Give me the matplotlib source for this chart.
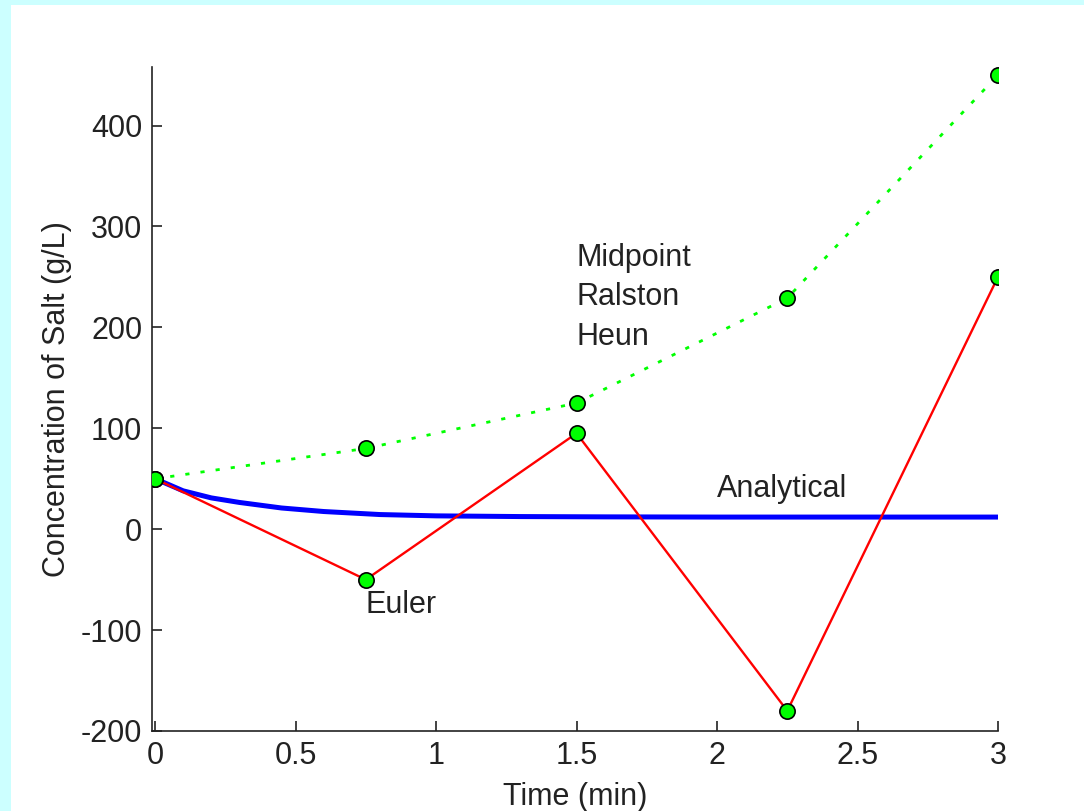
import matplotlib
matplotlib.use("Agg")
import matplotlib.pyplot as plt
import matplotlib.patches

plt.rcParams['font.family'] = ['Liberation Sans', 'DejaVu Sans']
plt.rcParams['axes.unicode_minus'] = False

# step results, h = 0.75 min
t_step = [0, 0.75, 1.5, 2.25, 3.0]
c_euler = [50, -50, 95, -180, 250]
c_midpoint = [50, 80, 125, 229, 450]

# analytical solution
t_exact = [0, 0.1, 0.2, 0.3, 0.45, 0.6, 0.8, 1.0, 1.3, 1.6, 2.0, 2.5, 3.0]
c_exact = [50, 38, 31, 26.5, 21, 17.5, 14.5, 13.2, 12.5, 12.2, 12, 12, 12]

x_ticks = [0, 0.5, 1, 1.5, 2, 2.5, 3]
x_labels = ["0", "0.5", "1", "1.5", "2", "2.5", "3"]
y_ticks = [-200, -100, 0, 100, 200, 300, 400]

fig = plt.figure(figsize=(10.84, 8.11), dpi=100, facecolor="#ccffff")
# white panel, cyan strip left and top
panel = matplotlib.patches.Rectangle((11 / 1084, 0), 1, 1 - 5 / 811,
                                     transform=fig.transFigure,
                                     facecolor="white", edgecolor="none",
                                     zorder=-10)
fig.patches.append(panel)

ax = fig.add_axes([152 / 1084, 80 / 811, (998 - 152) / 1084, (731 - 67) / 811])
ax.set_facecolor("none")

ax.plot(t_exact, c_exact, color="#0000ff", linewidth=3.6, zorder=2)
ax.plot(t_step, c_euler, color="#ff0000", linewidth=1.7, zorder=3)
ax.plot(t_step, c_midpoint, color="#00ff00", linewidth=2.0, linestyle=(0, (1.5, 4)),
        zorder=3)
ax.plot(t_step, c_euler, "o", markersize=11, markerfacecolor="#00ff00",
        markeredgecolor="black", markeredgewidth=1.2, zorder=4)
ax.plot(t_step, c_midpoint, "o", markersize=11, markerfacecolor="#00ff00",
        markeredgecolor="black", markeredgewidth=1.2, zorder=4)

fs = 22
tc = "#222222"
ax.text(1.5, 269, "Midpoint", fontsize=fs, va="center", ha="left", color=tc)
ax.text(1.5, 230, "Ralston", fontsize=fs, va="center", ha="left", color=tc)
ax.text(1.5, 190, "Heun", fontsize=fs, va="center", ha="left", color=tc)
ax.text(2.0, 40, "Analytical", fontsize=fs, va="center", ha="left", color=tc)
ax.text(0.75, -75, "Euler", fontsize=fs, va="center", ha="left", color=tc)

ax.set_xlim(-0.011, 3.0)
ax.set_ylim(-200, 458)
ax.set_xticks(x_ticks)
ax.set_xticklabels(x_labels)
ax.set_yticks(y_ticks)
ax.tick_params(direction="in", length=7, width=1.2, labelsize=fs,
               colors=tc, pad=7)
for side in ["top", "right"]:
    ax.spines[side].set_visible(False)
for side in ["left", "bottom"]:
    ax.spines[side].set_linewidth(1.2)
    ax.spines[side].set_color(tc)

ax.set_xlabel("Time (min)", fontsize=fs, color=tc, labelpad=8)
ax.set_ylabel("Concentration of Salt (g/L)", fontsize=fs, color=tc,
              labelpad=6)

fig.savefig("out.png", dpi=100, facecolor=fig.get_facecolor())
